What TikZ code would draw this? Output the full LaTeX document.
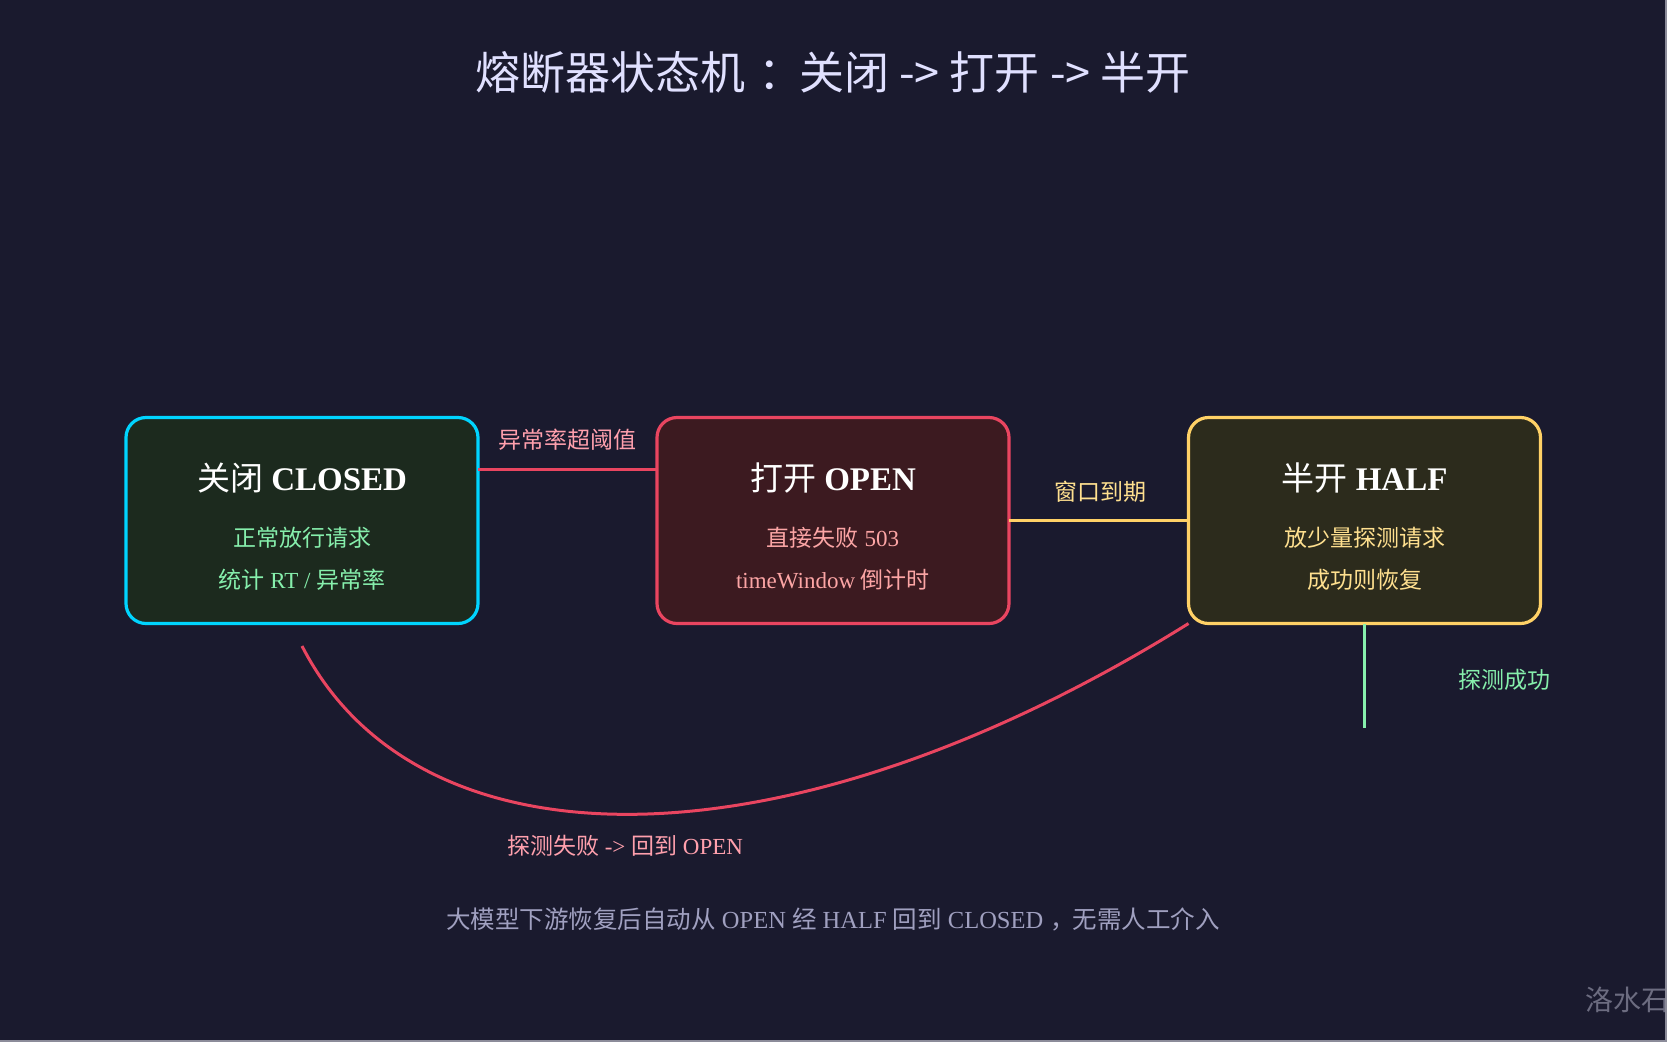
\documentclass[tikz,border=0pt]{standalone}
\usepackage{fontspec}
\setmainfont{Liberation Serif}
\newfontfamily\cjk{Noto Sans CJK SC}
\newcommand\C[1]{{\cjk #1}}
\definecolor{bg}{HTML}{1A1A2E}
\definecolor{edgegray}{HTML}{8C8C9A}
\definecolor{cyanB}{HTML}{00D4FF}
\definecolor{closedFill}{HTML}{1C2A1E}
\definecolor{openFill}{HTML}{3C1A20}
\definecolor{halfFill}{HTML}{2C2B1C}
\definecolor{redC}{HTML}{E94560}
\definecolor{yellowC}{HTML}{FFD166}
\definecolor{greenT}{HTML}{86EFAC}
\definecolor{pinkT}{HTML}{FCA5A5}
\definecolor{yellowT}{HTML}{FFE08F}
\definecolor{labPink}{HTML}{FFA0AD}
\definecolor{titleC}{HTML}{E0E0FF}
\definecolor{footC}{HTML}{A0A0C0}
\definecolor{wmC}{HTML}{6C6C80}
\begin{document}
\begin{tikzpicture}[x=1pt,y=-1pt,
  state/.style={draw, line width=3.2pt, rounded corners=20pt, minimum width=352pt,
    minimum height=206pt, inner sep=0pt, outer sep=0pt},
  boxtitle/.style={text=white, font=\fontsize{33}{39}\selectfont, inner sep=0pt},
  boxline/.style={font=\fontsize{23}{27}\selectfont, inner sep=0pt},
  lab/.style={font=\fontsize{23}{27}\selectfont, inner sep=0pt},
  conn/.style={line width=3pt}]
\useasboundingbox (0,0) rectangle (1667,1042);
\fill[bg] (0,0) rectangle (1667,1042);

% title
\node[text=titleC, font=\cjk\fontsize{45}{53}\selectfont, inner sep=0pt] (title) at (833,72)
  {熔断器状态机\hspace{0.3em}：\hspace{-0.1em}关闭 -> 打开 -> 半开};

% states
\node[state, draw=cyanB, fill=closedFill] (closed) at (302,520.5) {};
\node[state, draw=redC, fill=openFill] (open) at (833,520.5) {};
\node[state, draw=yellowC, fill=halfFill] (half) at (1364.5,520.5) {};

\node[boxtitle] (closedT) at (302,478) {\C{关闭} \textbf{CLOSED}};
\node[boxline, text=greenT] (closedA) at (302,538) {\C{正常放行请求}};
\node[boxline, text=greenT] (closedB) at (302,580) {\C{统计} RT / \C{异常率}};

\node[boxtitle] (openT) at (833,478) {\C{打开} \textbf{OPEN}};
\node[boxline, text=pinkT] (openA) at (833,538) {\C{直接失败} 503};
\node[boxline, text=pinkT] (openB) at (833,580) {timeWindow \C{倒计时}};

\node[boxtitle] (halfT) at (1364.5,478) {\C{半开} \textbf{HALF}};
\node[boxline, text=yellowT] (halfA) at (1364.5,538) {\C{放少量探测请求}};
\node[boxline, text=yellowT] (halfB) at (1364.5,580) {\C{成功则恢复}};

% connectors
\draw[conn, redC] (closed.east |- 0,469) -- (open.west |- 0,469);
\node[lab, text=labPink] (lab1) at (567,440) {\C{异常率超阈值}};

\draw[conn, yellowC] (open.east) -- (half.west);
\node[lab, text=yellowT] (lab2) at (1100,492) {\C{窗口到期}};

\coordinate (succEnd) at (1364.5,728);
\draw[conn, greenT] (half.south) -- (succEnd);
\node[lab, text=greenT] (lab3) at (1504,680) {\C{探测成功}};

\coordinate (failEnd) at (302,646);
\draw[conn, redC] (half.south west) .. controls (790,872) and (420,876) .. (failEnd);
\node[lab, text=labPink] (lab4) at (625,846) {\C{探测失败} -> \C{回到} OPEN};

% footer
\node[text=footC, font=\fontsize{24.5}{29}\selectfont, inner sep=0pt] (foot) at (833,919)
  {\C{大模型下游恢复后自动从} OPEN \C{经} HALF \C{回到} CLOSED\hspace{0.3em}\C{，}\hspace{-0.1em}\C{无需人工介入}};

% watermark
\node[text=wmC, font=\cjk\fontsize{28}{32}\selectfont, inner sep=0pt, anchor=west] (wm) at (1585,1000) {洛水石};

% edge strip
\fill[edgegray] (1665,0) rectangle (1667,1042);
\fill[edgegray] (0,1040) rectangle (1667,1042);
\end{tikzpicture}
\end{document}
